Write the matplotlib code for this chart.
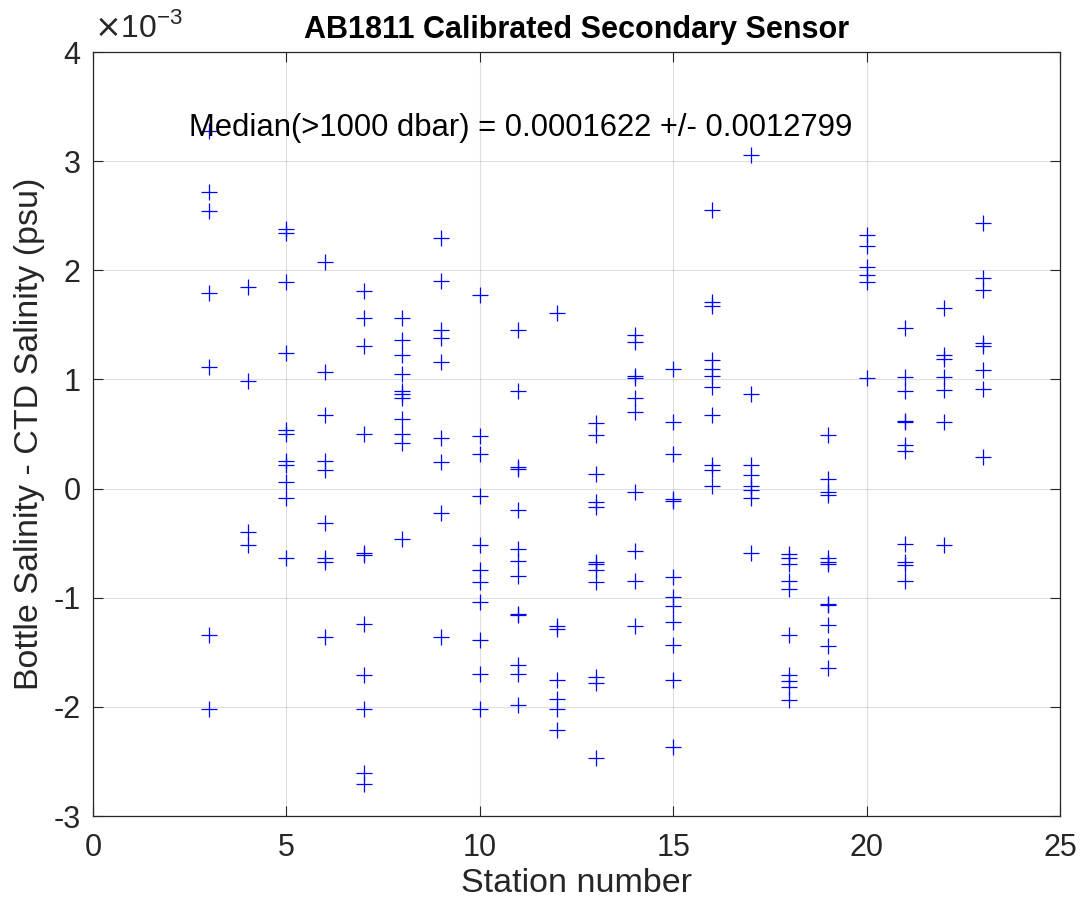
import matplotlib
matplotlib.use("Agg")
import matplotlib.pyplot as plt
import numpy as np

plt.rcParams['font.family'] = ['Liberation Sans', 'DejaVu Sans']
plt.rcParams['axes.unicode_minus'] = False

# Bottle - CTD salinity differences (units of 1e-3 psu), per station
diff_by_station = {
    3: [3.28, 2.72, 2.54, 1.79, 1.11, -1.34, -2.02],
    4: [1.85, 0.99, -0.40, -0.52],
    5: [2.38, 2.34, 1.89, 1.24, 0.54, 0.50, 0.25, 0.22, 0.06, -0.09, -0.64],
    6: [2.08, 1.07, 0.67, 0.25, 0.17, -0.32, -0.64, -0.67, -1.36],
    7: [1.81, 1.56, 1.31, 0.50, -0.59, -0.61, -1.24, -1.71, -2.02, -2.61, -2.71],
    8: [1.56, 1.36, 1.22, 1.05, 0.89, 0.87, 0.83, 0.64, 0.50, 0.42, -0.46],
    9: [2.30, 1.90, 1.45, 1.38, 1.16, 0.46, 0.24, -0.22, -1.36],
    10: [1.77, 0.48, 0.32, -0.07, -0.52, -0.75, -0.86, -1.04, -1.39, -1.70, -2.02],
    11: [1.45, 0.89, 0.20, 0.18, -0.20, -0.55, -0.66, -0.80, -1.15, -1.16, -1.62, -1.70, -1.98],
    12: [1.61, -1.26, -1.29, -1.75, -1.93, -2.02, -2.21],
    13: [0.60, 0.49, 0.13, -0.12, -0.17, -0.67, -0.69, -0.75, -0.86, -1.73, -1.78, -2.47],
    14: [1.41, 1.34, 1.03, 1.01, 0.83, 0.70, -0.03, -0.57, -0.85, -1.26],
    15: [1.10, 0.61, 0.32, -0.10, -0.11, -0.81, -0.99, -1.08, -1.22, -1.43, -1.75, -2.37],
    16: [2.55, 1.71, 1.67, 1.18, 1.10, 1.03, 0.93, 0.67, 0.22, 0.17, 0.02],
    17: [3.06, 0.87, 0.22, 0.12, 0.02, -0.01, -0.09, -0.59],
    18: [-0.60, -0.64, -0.69, -0.85, -0.92, -1.34, -1.71, -1.76, -1.82, -1.94],
    19: [0.49, 0.09, -0.03, -0.06, -0.64, -0.67, -0.69, -1.06, -1.07, -1.25, -1.44, -1.64],
    20: [2.32, 2.22, 2.03, 1.96, 1.89, 1.01],
    21: [1.47, 1.02, 0.89, 0.62, 0.61, 0.40, 0.34, -0.51, -0.67, -0.70, -0.85],
    22: [1.65, 1.22, 1.19, 1.02, 0.90, 0.61, -0.52],
    23: [2.43, 1.93, 1.82, 1.33, 1.31, 1.09, 0.91, 0.29],
}

titre = "AB1811 Calibrated Secondary Sensor"
texte_median = "Median(>1000 dbar) = 0.0001622 +/- 0.0012799"
x_ticks = [0, 5, 10, 15, 20, 25]
y_ticks = [-3, -2, -1, 0, 1, 2, 3, 4]

stations = []
diffs = []
for st, vals in diff_by_station.items():
    stations += [st] * len(vals)
    diffs += vals
stations = np.array(stations)
diffs = np.array(diffs) * 1e-3

fig = plt.figure(figsize=(10.83, 9.06), dpi=100)
ax = fig.add_axes([93 / 1083, 90 / 906, 967 / 1083, 764 / 906])

gris = '#262626'
ax.plot(stations, diffs, '+', color='b', markersize=11.5, markeredgewidth=0.9, zorder=3)

ax.set_xlim(0, 25)
ax.set_ylim(-3e-3, 4e-3)
ax.set_xticks(x_ticks)
ax.set_yticks(np.array(y_ticks) * 1e-3)
ax.set_xticklabels([str(t) for t in x_ticks])
ax.set_yticklabels([str(t) for t in y_ticks])

ax.grid(True, color='#000000', alpha=0.13, linewidth=0.8)
ax.set_axisbelow(True)
ax.tick_params(direction='in', length=7, width=0.8, colors=gris, labelsize=22,
               top=True, right=True)
ax.tick_params(axis='x', pad=12)
ax.tick_params(axis='y', pad=9)
for s in ax.spines.values():
    s.set_color(gris)
    s.set_linewidth(0.9)

ax.set_xlabel("Station number", fontsize=24.5, color=gris, labelpad=4)
ax.set_ylabel("Bottle Salinity - CTD Salinity (psu)", fontsize=24.5, color=gris, labelpad=6)
ax.set_title(titre, fontsize=22, fontweight='bold', pad=10)

ax.text(2.48, 3.30e-3, texte_median, fontsize=22.3, va='center', ha='left', zorder=5)

# multiplicateur de l'axe y, style MATLAB
fig.text(94 / 1083, 1 - 28 / 906, r"$\times$10$^{\mathregular{-3}}$", fontsize=23,
         color=gris, va='center', ha='left')

fig.savefig("out.png", dpi=100)
